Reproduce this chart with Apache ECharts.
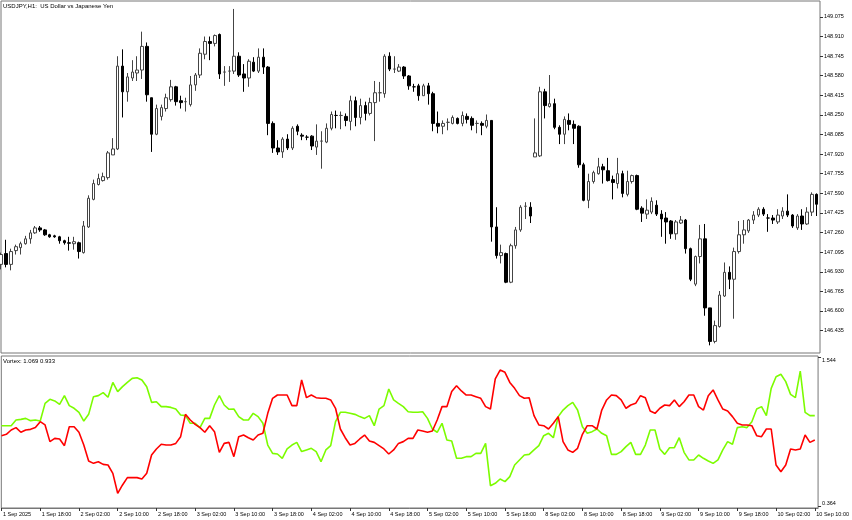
<!DOCTYPE html>
<html>
<head>
<meta charset="utf-8">
<script src="https://cdn.jsdelivr.net/npm/echarts@6/dist/echarts.min.js"></script>
<style>
html,body{margin:0;padding:0;background:#fff;}
#chart{width:852px;height:520px;}
</style>
</head>
<body>
<div id="chart"></div>
<script>
// ---- DATA (USDJPY H1, 169 bars) ----
const open = [
146.992,147.083,146.992,147.108,147.133,147.166,147.207,147.257,147.299,147.282,
147.241,147.232,147.224,147.191,147.174,147.166,147.174,147.091,147.307,147.539,
147.664,147.697,147.722,147.913,147.963,148.660,148.444,148.560,148.602,148.627,
148.826,148.394,148.087,148.237,148.303,148.378,148.486,148.369,148.361,148.336,
148.502,148.585,148.760,148.867,148.851,148.926,148.610,148.618,148.618,148.743,
148.594,148.560,148.693,148.618,148.735,148.652,148.178,147.971,147.938,148.046,
147.971,148.154,148.079,148.062,148.071,147.979,148.029,148.021,148.137,148.245,
148.245,148.237,148.195,148.369,148.228,148.328,148.262,148.353,148.436,148.428,
148.743,148.635,148.618,148.652,148.577,148.486,148.494,148.411,148.494,148.428,
148.178,148.154,148.187,148.178,148.220,148.178,148.237,148.220,148.178,148.178,
148.154,148.203,147.307,147.066,147.083,146.842,147.149,147.282,147.481,147.473,
147.896,147.905,148.444,148.320,148.344,148.145,148.087,148.203,148.170,148.154,
147.830,147.531,147.689,147.755,147.813,147.780,147.705,147.672,147.755,147.581,
147.689,147.739,147.465,147.415,147.432,147.490,147.415,147.382,147.357,147.249,
147.340,147.365,147.124,146.826,147.058,147.207,146.626,146.344,146.469,146.726,
146.925,146.867,147.100,147.241,147.274,147.365,147.407,147.456,147.382,147.382,
147.349,147.399,147.440,147.407,147.299,147.399,147.332,147.432,147.581
];
const close = [
147.075,146.992,147.100,147.141,147.166,147.207,147.257,147.299,147.282,147.241,
147.224,147.224,147.191,147.174,147.170,147.183,147.100,147.315,147.548,147.672,
147.714,147.730,147.930,147.963,148.660,148.444,148.569,148.610,148.627,148.826,
148.419,148.087,148.303,148.311,148.394,148.486,148.361,148.353,148.361,148.502,
148.585,148.768,148.867,148.851,148.917,148.594,148.610,148.618,148.743,148.585,
148.560,148.701,148.618,148.735,148.652,148.178,147.971,147.938,148.046,147.971,
148.137,148.112,148.071,148.062,147.988,148.029,148.029,148.137,148.253,148.245,
148.245,148.203,148.369,148.228,148.328,148.262,148.353,148.436,148.436,148.743,
148.635,148.635,148.652,148.577,148.494,148.486,148.411,148.494,148.428,148.178,
148.154,148.178,148.187,148.228,148.178,148.245,148.212,148.162,148.178,148.162,
148.203,147.307,147.066,147.091,146.842,147.149,147.282,147.473,147.481,147.399,
147.930,148.444,148.328,148.344,148.145,148.087,148.212,148.170,148.137,147.830,
147.531,147.689,147.764,147.813,147.788,147.697,147.681,147.755,147.589,147.689,
147.739,147.456,147.423,147.448,147.523,147.415,147.374,147.349,147.249,147.349,
147.365,147.124,146.867,147.058,147.207,146.626,146.344,146.477,146.734,146.925,
146.867,147.100,147.241,147.282,147.365,147.407,147.456,147.415,147.382,147.365,
147.407,147.440,147.407,147.315,147.399,147.332,147.432,147.581,147.498
];
const high = [
147.091,147.199,147.124,147.158,147.183,147.232,147.282,147.315,147.315,147.290,
147.249,147.241,147.232,147.199,147.224,147.224,147.183,147.357,147.573,147.705,
147.755,147.764,147.946,148.054,148.743,148.801,148.602,148.710,148.743,148.950,
148.859,148.394,148.336,148.336,148.428,148.544,148.494,148.411,148.394,148.577,
148.602,148.809,148.909,148.909,148.926,148.934,148.660,148.660,149.141,148.776,
148.677,148.718,148.735,148.809,148.809,148.660,148.195,148.037,148.062,148.087,
148.154,148.170,148.095,148.079,148.079,148.170,148.112,148.178,148.278,148.286,
148.278,148.262,148.411,148.403,148.386,148.361,148.394,148.535,148.527,148.760,
148.776,148.743,148.677,148.660,148.585,148.511,148.511,148.511,148.519,148.444,
148.278,148.203,148.220,148.245,148.228,148.278,148.262,148.237,148.203,148.195,
148.253,148.203,147.473,147.158,147.091,147.166,147.307,147.490,147.515,147.515,
148.220,148.486,148.469,148.585,148.386,148.162,148.237,148.262,148.203,148.162,
147.847,147.755,147.780,147.888,147.838,147.888,147.739,147.888,147.780,147.780,
147.747,147.747,147.481,147.539,147.556,147.531,147.448,147.432,147.365,147.365,
147.399,147.374,147.133,147.066,147.324,147.332,146.626,146.519,146.768,147.008,
146.975,147.133,147.357,147.365,147.374,147.440,147.473,147.473,147.415,147.407,
147.456,147.473,147.581,147.415,147.415,147.456,147.473,147.598,147.589
];
const low = [
146.950,146.967,146.942,147.075,147.075,147.158,147.166,147.249,147.266,147.232,
147.216,147.216,147.166,147.158,147.108,147.116,147.041,147.083,147.299,147.531,
147.656,147.689,147.705,147.913,147.954,148.228,148.361,148.535,148.535,148.552,
148.361,147.938,148.079,148.203,148.278,148.361,148.328,148.303,148.278,148.320,
148.452,148.560,148.718,148.710,148.826,148.552,148.494,148.527,148.594,148.569,
148.444,148.486,148.610,148.602,148.594,148.079,147.930,147.913,147.888,147.954,
147.954,148.079,148.037,148.037,147.954,147.913,147.797,148.012,148.120,148.137,
148.129,148.154,148.120,148.154,148.170,148.203,148.245,148.029,148.361,148.394,
148.618,148.602,148.610,148.552,148.461,148.444,148.369,148.411,148.336,148.112,
148.095,148.087,148.120,148.170,148.170,148.154,148.178,148.120,148.095,148.079,
148.137,147.183,147.041,147.000,146.834,146.834,147.124,147.266,147.374,147.340,
147.896,147.896,148.220,148.311,148.129,148.004,148.004,148.120,148.004,147.805,
147.523,147.465,147.672,147.747,147.672,147.689,147.539,147.631,147.556,147.564,
147.672,147.448,147.349,147.374,147.415,147.399,147.224,147.166,147.207,147.199,
147.332,147.083,146.851,146.809,147.000,146.560,146.311,146.328,146.460,146.718,
146.784,146.535,147.083,147.166,147.257,147.332,147.390,147.399,147.266,147.332,
147.332,147.374,147.390,147.299,147.282,147.282,147.324,147.399,147.399
];
// Vortex VI+ (green) and VI- (red)
const viPlus = [
1.000,1.000,1.000,1.045,1.050,1.058,1.040,1.045,1.037,1.177,
1.209,1.196,1.169,1.238,1.159,1.138,1.106,1.037,1.090,1.230,
1.238,1.262,1.225,1.343,1.270,1.309,1.343,1.375,1.380,1.362,
1.309,1.185,1.190,1.151,1.151,1.145,1.132,1.085,1.080,1.019,
1.019,0.985,1.058,1.058,1.164,1.238,1.164,1.130,1.132,1.072,
1.045,1.045,1.098,1.072,1.019,0.847,0.781,0.776,0.742,0.816,
0.847,0.868,0.795,0.808,0.821,0.795,0.715,0.808,0.842,1.032,
1.106,1.106,1.098,1.090,1.072,1.058,1.080,1.000,1.132,1.159,
1.291,1.204,1.177,1.151,1.111,1.106,1.106,1.111,1.058,0.974,
0.948,1.019,0.887,0.879,0.742,0.742,0.755,0.755,0.781,0.781,
0.860,0.525,0.544,0.578,0.557,0.597,0.689,0.729,0.768,0.773,
0.808,0.842,0.921,0.940,0.905,1.072,1.124,1.159,1.185,1.124,
0.992,0.940,0.953,0.974,0.940,0.921,0.773,0.773,0.795,0.834,
0.868,0.773,0.773,0.847,0.966,0.966,0.816,0.773,0.826,0.826,
0.905,0.789,0.729,0.729,0.768,0.742,0.721,0.702,0.729,0.808,
0.874,0.853,0.985,0.992,0.985,1.032,1.132,1.151,1.080,1.296,
1.388,1.407,1.349,1.248,1.222,1.433,1.106,1.080,1.080
];
const viMinus = [
0.921,0.932,0.966,0.985,0.948,0.966,0.971,0.985,1.032,1.006,
0.874,0.900,0.895,0.842,0.992,0.992,0.948,0.847,0.721,0.702,
0.715,0.694,0.689,0.623,0.465,0.531,0.589,0.589,0.589,0.578,
0.623,0.768,0.816,0.853,0.847,0.847,0.860,0.913,1.090,1.045,
1.011,0.985,0.948,1.000,0.953,0.789,0.860,0.868,0.755,0.913,
0.926,0.905,0.887,0.926,0.940,1.098,1.217,1.243,1.243,1.243,
1.159,1.159,1.362,1.222,1.243,1.222,1.217,1.217,1.204,1.138,
0.974,0.905,0.847,0.860,0.895,0.926,0.879,0.868,0.842,0.816,
0.776,0.808,0.860,0.874,0.900,0.900,0.966,0.958,0.948,0.958,
1.045,1.151,1.151,1.270,1.317,1.275,1.243,1.243,1.230,1.217,
1.151,1.132,1.370,1.441,1.423,1.343,1.296,1.238,1.217,1.222,
1.080,1.006,1.000,0.974,1.019,1.072,0.874,0.808,0.789,0.821,
0.932,1.000,1.000,0.974,1.124,1.204,1.243,1.238,1.204,1.138,
1.164,1.177,1.238,1.222,1.116,1.098,1.138,1.164,1.159,1.204,
1.151,1.190,1.243,1.243,1.151,1.124,1.238,1.283,1.204,1.132,
1.116,1.072,1.019,1.006,1.006,1.000,0.921,0.913,0.974,0.974,
0.689,0.636,0.689,0.816,0.808,0.816,0.926,0.868,0.887
];
// time tick labels (every 8 bars from bar 0)
const timeLabels = [
'1 Sep 2025','1 Sep 18:00','2 Sep 02:00','2 Sep 10:00','2 Sep 18:00','3 Sep 02:00',
'3 Sep 10:00','3 Sep 18:00','4 Sep 02:00','4 Sep 10:00','4 Sep 18:00','5 Sep 02:00',
'5 Sep 10:00','5 Sep 18:00','8 Sep 02:00','8 Sep 10:00','8 Sep 18:00','9 Sep 02:00',
'9 Sep 10:00','9 Sep 18:00','10 Sep 02:00','10 Sep 10:00'
];
const timeLabelBars = [0,8,16,24,32,40,48,56,64,72,80,88,96,104,112,120,128,136,144,152,160,168];
const priceTicks = [146.435,146.600,146.765,146.930,147.095,147.260,147.425,147.590,147.755,147.920,148.085,148.250,148.415,148.580,148.745,148.910,149.075];
const vortexTicks = [0.364, 1.544];
const titleText = 'USDJPY,H1:  US Dollar vs Japanese Yen';
const vortexText = 'Vortex: 1.069 0.933';

// ---- CHART ----
const FONT = 'Liberation Sans';
const labelMap = {};
timeLabelBars.forEach((b, k) => { labelMap[b] = timeLabels[k]; });
const candleData = open.map((o, i) => [i, o, close[i], low[i], high[i]]);
const plusData = viPlus.map((v, i) => [i, v]);
const minusData = viMinus.map((v, i) => [i, v]);
const XMIN = -0.041, XMAX = 168.68;

const chart = echarts.init(document.getElementById('chart'), null, {renderer: 'canvas'});
const frame = {show: true, borderColor: '#777', borderWidth: 1, backgroundColor: '#fff'};
chart.setOption({
  animation: false,
  backgroundColor: '#fff',
  title: [
    {text: titleText, left: 3, top: 3, padding: 0,
     textStyle: {fontSize: 6, fontWeight: 'normal', color: '#000', fontFamily: FONT}},
    {text: vortexText, left: 3, top: 358, padding: 0,
     textStyle: {fontSize: 6, fontWeight: 'normal', color: '#000', fontFamily: FONT}}
  ],
  grid: [
    Object.assign({left: 1, top: 1, width: 819, height: 352}, frame),
    Object.assign({left: 1, top: 356, width: 819, height: 152}, frame)
  ],
  xAxis: [
    {type: 'value', gridIndex: 0, min: XMIN, max: XMAX,
     axisLine: {show: false, onZero: false}, axisTick: {show: false}, axisLabel: {show: false}, splitLine: {show: false}},
    {type: 'value', gridIndex: 1, min: XMIN, max: XMAX,
     axisLine: {show: true, onZero: false, lineStyle: {color: '#777', width: 1}},
     axisTick: {show: true, customValues: timeLabelBars, length: 3, lineStyle: {color: '#333'}},
     axisLabel: {show: true, customValues: timeLabelBars, align: 'left', margin: 3,
       padding: [0, 0, 0, 1.5],
       fontSize: 5.5, color: '#000', fontFamily: FONT,
       formatter: v => labelMap[Math.round(v)] || ''},
     splitLine: {show: false}}
  ],
  yAxis: [
    {type: 'value', gridIndex: 0, position: 'right', min: 146.2465, max: 149.2078,
     axisLine: {show: false, onZero: false},
     axisTick: {show: true, customValues: priceTicks, length: 3, lineStyle: {color: '#333'}},
     axisLabel: {show: true, customValues: priceTicks, margin: 4, fontSize: 5.5, color: '#000',
       fontFamily: FONT, formatter: v => v.toFixed(3)},
     splitLine: {show: false}},
    {type: 'value', gridIndex: 1, position: 'right', min: 0.3485, max: 1.5519,
     axisLine: {show: false, onZero: false},
     axisTick: {show: true, customValues: vortexTicks, length: 3, lineStyle: {color: '#333'}},
     axisLabel: {show: true, customValues: vortexTicks, margin: 4, fontSize: 5.5, color: '#000',
       fontFamily: FONT, formatter: v => v.toFixed(3),
       verticalAlignMinLabel: 'bottom', verticalAlignMaxLabel: 'top'},
     splitLine: {show: false}}
  ],
  series: [
    {type: 'candlestick', xAxisIndex: 0, yAxisIndex: 0, data: candleData, barWidth: 3,
     itemStyle: {color: '#fff', color0: '#000', borderColor: '#444', borderColor0: '#000', borderWidth: 1}},
    {type: 'line', xAxisIndex: 1, yAxisIndex: 1, data: plusData, symbol: 'none',
     lineStyle: {color: '#7CFC00', width: 1.6}},
    {type: 'line', xAxisIndex: 1, yAxisIndex: 1, data: minusData, symbol: 'none',
     lineStyle: {color: '#FF0000', width: 1.6}}
  ]
});
</script>
</body>
</html>
